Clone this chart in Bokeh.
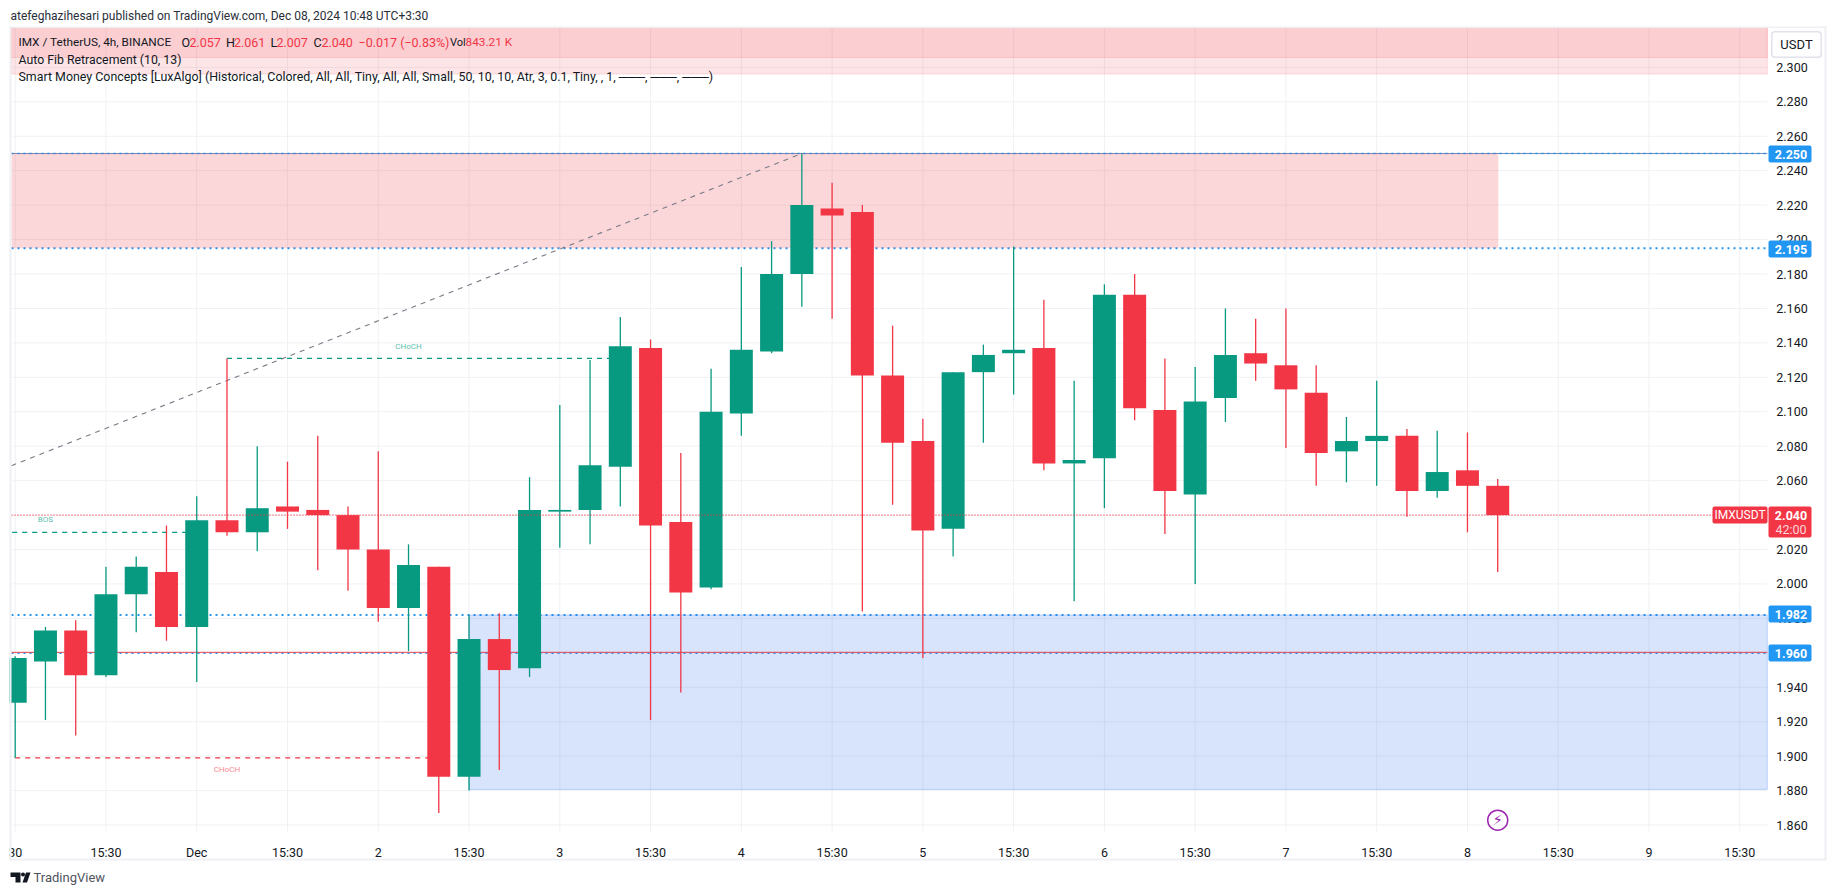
from bokeh.plotting import figure
from bokeh.embed import file_html
from bokeh.resources import INLINE
from bokeh.models import (Range1d, FixedTicker, Label, BoxAnnotation, PolyAnnotation)
from bokeh.core.properties import value

# ---------- data ----------
opens = [1.931,1.955,1.973,1.947,1.994,2.007,1.975,2.037,2.030,2.045,2.043,2.040,2.020,1.986,2.010,1.888,1.968,1.951,2.042,2.043,
         2.068,2.137,2.036,1.998,2.099,2.135,2.180,2.218,2.216,2.121,2.083,2.032,2.123,2.134,2.137,2.070,2.073,2.168,2.101,2.052,
         2.108,2.134,2.127,2.111,2.077,2.083,2.086,2.054,2.066,2.057]
highs = [1.958,1.975,1.979,2.010,2.016,2.034,2.051,2.131,2.080,2.071,2.086,2.045,2.077,2.023,2.010,1.982,1.983,2.062,2.104,2.130,
         2.155,2.142,2.076,2.125,2.184,2.199,2.250,2.233,2.220,2.150,2.096,2.123,2.139,2.196,2.165,2.118,2.174,2.180,2.131,2.126,
         2.160,2.154,2.160,2.127,2.097,2.118,2.090,2.089,2.088,2.061]
lows  = [1.899,1.921,1.912,1.946,1.972,1.967,1.943,2.028,2.019,2.032,2.008,1.996,1.978,1.961,1.867,1.880,1.892,1.946,2.021,2.023,
         2.045,1.921,1.937,1.997,2.086,2.134,2.161,2.154,1.984,2.046,1.957,2.016,2.082,2.110,2.066,1.990,2.044,2.095,2.029,2.000,
         2.094,2.118,2.079,2.057,2.059,2.057,2.039,2.050,2.030,2.007]
closes= [1.957,1.973,1.947,1.994,2.010,1.975,2.037,2.030,2.044,2.042,2.040,2.020,1.986,2.011,1.888,1.968,1.950,2.043,2.043,2.069,
         2.138,2.034,1.995,2.100,2.136,2.180,2.220,2.214,2.121,2.082,2.031,2.123,2.133,2.136,2.070,2.072,2.168,2.102,2.054,2.106,
         2.133,2.128,2.113,2.076,2.083,2.086,2.054,2.065,2.057,2.040]

price_ticks = [1.86,1.88,1.90,1.92,1.94,1.96,1.98,2.00,2.02,2.04,2.06,2.08,2.10,2.12,2.14,2.16,2.18,2.20,2.22,2.24,2.26,2.28,2.30]
time_ticks = [0,3,6,9,12,15,18,21,24,27,30,33,36,39,42,45,48,51,54,57]
time_labels = ["30","15:30","Dec","15:30","2","15:30","3","15:30","4","15:30","5","15:30","6","15:30","7","15:30","8","15:30","9","15:30"]

last_price = 2.040
res_top, res_bot = 2.250, 2.195
sup_top, sup_bot = 1.982, 1.8807
extra_level = 1.960
band_a, band_b = 2.2961, 2.3057
bos_level, choch_up, choch_dn = 2.030, 2.131, 1.899
fib_x = [-0.122, 26]
fib_y = [2.0687, 2.250]

# pane bounds in data units, and the ranges of the whole canvas (the frame fills it, axes sit at fixed locations)
X0, X1 = -0.122, 57.91
Y0, Y1 = 1.85567, 2.32315
CX0, CX1 = -0.4858, 59.90
CY0, CY1 = 1.82373, 2.33883
GREEN, RED, BLUE = "#089981", "#f23645", "#2196f3"
FONT = "Roboto"
TXT = "#131722"
GRID = "#f0f1f4"
EDGE = "#eff0f4"

p = figure(width=1827, height=887, output_backend="svg", toolbar_location=None,
           x_range=Range1d(CX0, CX1), y_range=Range1d(CY0, CY1), y_axis_location="right",
           min_border_left=0, min_border_right=0, min_border_top=0, min_border_bottom=0,
           background_fill_color="white", border_fill_color="white", outline_line_color=None)

xa, ya = p.xaxis[0], p.yaxis[0]
xa.fixed_location = Y0
ya.fixed_location = X1
xa.ticker = FixedTicker(ticks=time_ticks)
xa.major_label_overrides = dict(zip(time_ticks, time_labels))
ya.ticker = FixedTicker(ticks=price_ticks)
ya.major_label_overrides = {t: f"{t:.3f}" for t in price_ticks}
for a in (xa, ya):
    a.axis_line_color = None
    a.major_tick_line_color = None
    a.minor_tick_line_color = None
    a.major_label_text_font = FONT
    a.major_label_text_font_size = "12.5px"
    a.major_label_text_color = TXT
xa.major_label_standoff = 7
ya.major_label_standoff = 3
p.grid.visible = False

# grid, limited to the pane
p.segment(x0=time_ticks, x1=time_ticks, y0=[Y0] * len(time_ticks), y1=[Y1] * len(time_ticks),
          line_color=GRID, line_width=1, level="underlay")
p.segment(x0=[X0] * len(price_ticks), x1=[X1] * len(price_ticks), y0=price_ticks, y1=price_ticks,
          line_color=GRID, line_width=1, level="underlay")

# lines lying under the zones
p.segment(x0=[X0], x1=[X1], y0=[res_top], y1=[res_top], line_color="#7486b0", line_width=1)
for lvl, w in ((res_top, 1.5), (res_bot, 2), (sup_top, 2), (extra_level - 0.0003, 1.5)):
    p.segment(x0=[X0], x1=[X1], y0=[lvl], y1=[lvl], line_color=BLUE, line_width=w, line_dash="2 4")

# zones
p.quad(left=[X0], right=[X1], bottom=[band_a], top=[Y1], fill_color=RED, fill_alpha=0.13,
       line_color=RED, line_alpha=0.15)
p.quad(left=[X0], right=[X1], bottom=[band_b], top=[Y1], fill_color=RED, fill_alpha=0.13,
       line_color=RED, line_alpha=0.15)
p.quad(left=[X0], right=[49.02], bottom=[res_bot], top=[res_top], fill_color=RED, fill_alpha=0.2, line_color=None)
p.quad(left=[15], right=[X1], bottom=[sup_bot], top=[sup_top], fill_color="#2a6ff0", fill_alpha=0.19,
       line_color="#2a6ff0", line_alpha=0.25)
p.segment(x0=[X0], x1=[X1], y0=[extra_level + 0.0003], y1=[extra_level + 0.0003], line_color="#e8424f", line_width=1)

# structure lines + fib
p.line(fib_x, fib_y, line_color="#787b86", line_width=1.1, line_dash="5 5")
p.segment(x0=[-0.1], x1=[6], y0=[bos_level], y1=[bos_level], line_color=GREEN, line_width=1.2, line_dash="5 5")
p.segment(x0=[7], x1=[20], y0=[choch_up], y1=[choch_up], line_color=GREEN, line_width=1.2, line_dash="5 5")
p.segment(x0=[0], x1=[14], y0=[choch_dn], y1=[choch_dn], line_color=RED, line_width=1.2, line_dash="5 5")
p.text(x=[1], y=[2.0375], text=["BOS"], text_color="#5cbfae", text_font=value(FONT), text_font_size="8px",
       text_align="center", text_baseline="middle")
p.text(x=[13], y=[2.138], text=["CHoCH"], text_color="#5cbfae", text_font=value(FONT), text_font_size="8px",
       text_align="center", text_baseline="middle")
p.text(x=[7], y=[1.8923], text=["CHoCH"], text_color="#f98a94", text_font=value(FONT), text_font_size="8px",
       text_align="center", text_baseline="middle")

# candles
idx = list(range(len(opens)))
cols = [GREEN if c >= o else RED for o, c in zip(opens, closes)]
p.segment(x0=idx, x1=idx, y0=lows, y1=highs, line_color=cols, line_width=1.3)
p.vbar(x=idx, width=0.76, bottom=[min(o, c) for o, c in zip(opens, closes)],
       top=[max(o, c) for o, c in zip(opens, closes)], fill_color=cols, line_color=None)

# current price line
p.segment(x0=[X0], x1=[X1], y0=[last_price], y1=[last_price], line_color=RED, line_width=1.1, line_dash="1 2")

# lightning marker
p.scatter(x=[49], y=[1.8628], size=20, marker="circle", fill_color=None, line_color="#9c27b0", line_width=1.5)
p.text(x=[49], y=[1.8628], text=["\u26a1"], text_color="#9c27b0", text_font=value("DejaVu Sans"),
       text_font_size="15px", text_align="center", text_baseline="middle")

# ---------- page furniture, in canvas coordinates ----------
def txt(x, y, s, color=TXT, size="12.5px", align="left", style="normal", font=FONT):
    p.add_layout(Label(x=x, y=y, x_units="canvas", y_units="canvas", text=s, text_color=color,
                       text_font=font, text_font_size=size, text_align=align, text_baseline="middle",
                       text_font_style=style))

def box(l, t, r, b, fill, radius=0):
    p.add_layout(BoxAnnotation(left=l, right=r, top=t, bottom=b,
                               left_units="canvas", right_units="canvas", top_units="canvas", bottom_units="canvas",
                               fill_color=fill, fill_alpha=1, line_color=None,
                               border_radius=radius, level="annotation"))

box(0, 0, 9, 887, "white")                 # masks the part of the first candle left of the pane
box(9, 26, 11, 860, EDGE)
box(9, 26, 1826, 27.5, EDGE)
box(1824, 26, 1826, 860, EDGE)
box(9, 858, 1826, 860, EDGE)

# header + legend
txt(10, 15, "atefeghazihesari published on TradingView.com, Dec 08, 2024 10:48 UTC+3:30", "#2a2e39", size="12px")
txt(18, 41.7, "IMX / TetherUS, 4h, BINANCE", size="11.8px")
for x, lab, val in ((181, "O", "2.057"), (225.5, "H", "2.061"), (270, "L", "2.007"), (313, "C", "2.040")):
    txt(x, 41.7, lab)
    txt(x + (6 if lab == "L" else 8), 41.7, val, RED)
txt(358, 41.7, "\u22120.017 (\u22120.83%)", RED)
txt(449.5, 41.7, "Vol", size="11px")
txt(465, 41.7, "843.21 K", RED, size="11.8px")
txt(18, 59, "Auto Fib Retracement (10, 13)", size="12.3px")
txt(18, 76, "Smart Money Concepts [LuxAlgo] (Historical, Colored, All, All, Tiny, All, All, Small, 50, 10, 10, Atr, 3, 0.1, Tiny, , 1, \u2500\u2500\u2500, \u2500\u2500\u2500, \u2500\u2500\u2500)", size="12.4px")

# currency button
box(1770.5, 30.5, 1821.5, 57.5, "#e0e3eb", 4)
box(1772, 32, 1820, 56, "white", 3)
txt(1796, 44, "USDT", align="center", size="13px")

# price tags
for lvl, top in (("2.250", 145), ("2.195", 240), ("1.982", 605), ("1.960", 644)):
    box(1768, top, 1811, top + 17, BLUE, 2)
    txt(1790.5, top + 8.5, lvl, "white", align="center", style="bold")
box(1768, 506, 1811, 537, RED, 2)
txt(1790.5, 514.5, "2.040", "white", align="center", style="bold")
txt(1790.5, 528.5, "42:00", "#fcd5d9", align="center")
box(1712, 506, 1767, 523, RED, 2)
txt(1739.5, 514.5, "IMXUSDT", "white", align="center", size="12px")

# logo
for xs, ys in (([10, 20, 20, 15, 15, 10], [872, 872, 882, 882, 876.5, 876.5]),
               ([25.5, 30, 26.5, 22], [872, 872, 882, 882])):
    p.add_layout(PolyAnnotation(xs=xs, ys=ys, xs_units="canvas", ys_units="canvas",
                                fill_color="#131722", fill_alpha=1, line_color=None))
box(20.5, 872, 24.5, 876, "#131722", 2)
txt(33, 877, "TradingView", "#50535e", size="13px")

open("out.html", "w").write(file_html(p, INLINE))
